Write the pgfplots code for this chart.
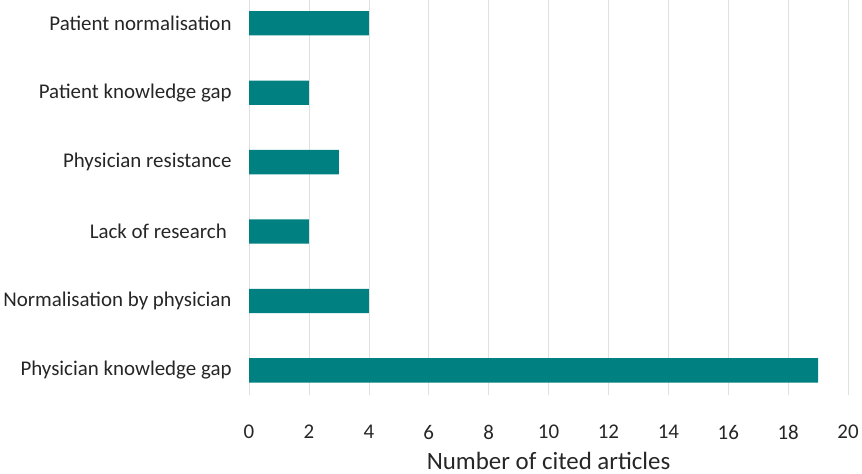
\documentclass[border=0pt]{standalone}
\usepackage{pgfplots}
\pgfplotsset{compat=1.18}
\usepackage{fontspec}
\setmainfont{Carlito}
\definecolor{barteal}{HTML}{008080}
\begin{document}
\begin{tikzpicture}
\begin{axis}[
  scale only axis, width=599bp, height=395bp,
  xmin=0, xmax=20, ymin=-0.36, ymax=5.33,
  xbar, bar width=0.35,
  xtick={0,2,...,20}, ytick={0,...,5},
  yticklabels={Physician knowledge gap, Normalisation by physician, Lack of research\kern0.23em, Physician resistance, Patient knowledge gap, Patient normalisation},
  xmajorgrids, grid style={draw=black!12, line width=0.7bp},
  axis line style={draw=none},
  major tick length=0pt,
  /pgf/number format/assume math mode=true,
  tick label style={font=\fontsize{21}{24}\selectfont, text=black!85},
  xticklabel style={yshift=-26bp},
  yticklabel style={xshift=-14bp},
  xlabel={Number of cited articles},
  xlabel style={font=\fontsize{25}{28}\selectfont, text=black!85, yshift=-5bp, inner sep=4bp},
]
\addplot[fill=barteal, draw=none] coordinates {(19,0) (4,1) (2,2) (3,3) (2,4) (4,5)};
\end{axis}
\end{tikzpicture}
\end{document}
